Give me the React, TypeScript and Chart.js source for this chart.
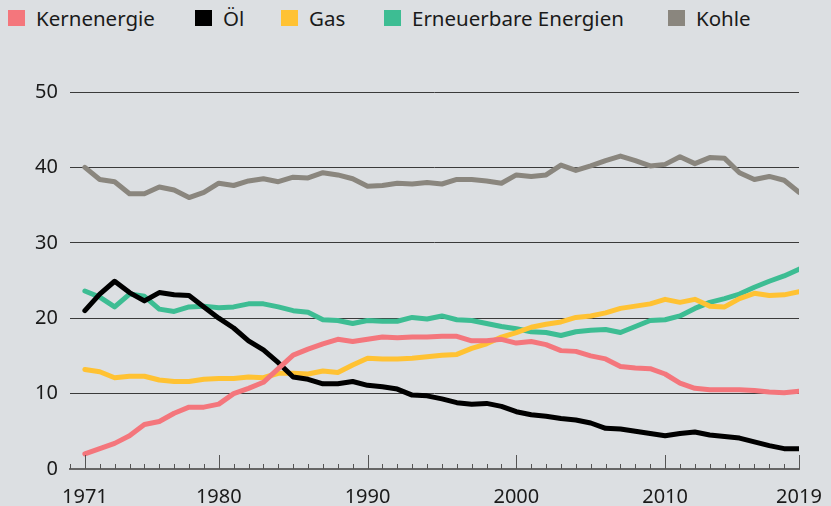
import React, { useEffect, useRef } from "react";
import { Chart, registerables } from "chart.js";

Chart.register(...registerables);

const years: number[] = [];
for (let y = 1971; y <= 2019; y++) years.push(y);

const kernenergie = [2.0, 2.7, 3.4, 4.4, 5.9, 6.3, 7.4, 8.2, 8.2, 8.6, 10.0, 10.7, 11.5, 13.3, 15.1, 15.9, 16.6, 17.2, 16.9, 17.2, 17.5, 17.4, 17.5, 17.5, 17.6, 17.6, 17.0, 17.0, 17.2, 16.7, 16.9, 16.5, 15.7, 15.6, 15.0, 14.6, 13.6, 13.4, 13.3, 12.6, 11.4, 10.7, 10.5, 10.5, 10.5, 10.4, 10.2, 10.1, 10.3];
const oel = [21.0, 23.2, 24.9, 23.4, 22.3, 23.4, 23.1, 23.0, 21.5, 20.0, 18.7, 17.0, 15.8, 14.1, 12.2, 11.9, 11.3, 11.3, 11.6, 11.1, 10.9, 10.6, 9.8, 9.7, 9.3, 8.8, 8.6, 8.7, 8.3, 7.6, 7.2, 7.0, 6.7, 6.5, 6.1, 5.4, 5.3, 5.0, 4.7, 4.4, 4.7, 4.9, 4.5, 4.3, 4.1, 3.6, 3.1, 2.7, 2.7];
const gas = [13.2, 12.9, 12.1, 12.3, 12.3, 11.8, 11.6, 11.6, 11.9, 12.0, 12.0, 12.2, 12.1, 12.7, 12.7, 12.6, 13.0, 12.8, 13.8, 14.7, 14.6, 14.6, 14.7, 14.9, 15.1, 15.2, 16.0, 16.6, 17.5, 18.1, 18.8, 19.2, 19.5, 20.1, 20.3, 20.7, 21.3, 21.6, 21.9, 22.5, 22.1, 22.5, 21.6, 21.5, 22.6, 23.3, 23.0, 23.1, 23.5];
const erneuerbare = [23.6, 22.8, 21.5, 23.2, 22.9, 21.2, 20.9, 21.5, 21.6, 21.4, 21.5, 21.9, 21.9, 21.5, 21.0, 20.8, 19.8, 19.7, 19.3, 19.7, 19.6, 19.6, 20.1, 19.9, 20.3, 19.8, 19.7, 19.3, 18.9, 18.6, 18.2, 18.1, 17.7, 18.2, 18.4, 18.5, 18.1, 18.9, 19.7, 19.8, 20.3, 21.3, 22.1, 22.6, 23.2, 24.1, 24.9, 25.6, 26.5];
const kohle = [40.0, 38.4, 38.1, 36.5, 36.5, 37.4, 37.0, 36.0, 36.7, 37.9, 37.6, 38.2, 38.5, 38.1, 38.7, 38.6, 39.3, 39.0, 38.5, 37.5, 37.6, 37.9, 37.8, 38.0, 37.8, 38.4, 38.4, 38.2, 37.9, 39.0, 38.8, 39.0, 40.3, 39.6, 40.2, 40.9, 41.5, 40.9, 40.2, 40.4, 41.4, 40.5, 41.3, 41.2, 39.3, 38.4, 38.8, 38.3, 36.7];

const xTickLabels = [1971, 1980, 1990, 2000, 2010, 2019];
const yTicks = [0, 10, 20, 30, 40, 50];

const seriesNames = ["Kernenergie", "Öl", "Gas", "Erneuerbare Energien", "Kohle"];
const seriesColors = ["#f4767c", "#000000", "#ffc233", "#3dbd93", "#8a867e"];
const seriesData = [kernenergie, oel, gas, erneuerbare, kohle];

// legend layout (pixel offsets of each legend item)
const legendLeft = [8, 195, 281, 384, 668];

const FONT = "'Noto Sans', sans-serif";

const tickPlugin = {
  id: "upTicks",
  afterDatasetsDraw(chart: any) {
    const x = chart.scales.x;
    const ctx = chart.ctx;
    const bottom = chart.chartArea.bottom;
    ctx.save();
    ctx.strokeStyle = "#555";
    ctx.lineWidth = 1;
    for (let yr = 1970; yr <= 2019; yr++) {
      const px = Math.round(x.getPixelForValue(yr)) + 0.5;
      const major = xTickLabels.includes(yr);
      const len = major ? 14 : 5;
      ctx.beginPath();
      ctx.moveTo(px, bottom);
      ctx.lineTo(px, bottom - len);
      ctx.stroke();
    }
    ctx.restore();
  },
};

export default function App() {
  const ref = useRef<HTMLCanvasElement | null>(null);

  useEffect(() => {
    if (!ref.current) return;
    const chart = new Chart(ref.current, {
      type: "line",
      data: {
        datasets: seriesNames.map((name, i) => ({
          label: name,
          data: years.map((yr, j) => ({ x: yr, y: seriesData[i][j] })),
          borderColor: seriesColors[i],
          backgroundColor: seriesColors[i],
          borderWidth: 5,
          pointRadius: 0,
          tension: 0,
          borderCapStyle: "round" as const,
          borderJoinStyle: "round" as const,
        })),
      },
      options: {
        animation: false,
        responsive: false,
        maintainAspectRatio: false,
        layout: { padding: { top: 92, right: 32, left: 0, bottom: 0 } },
        plugins: { legend: { display: false }, tooltip: { enabled: false } },
        scales: {
          x: {
            type: "linear",
            min: 1970,
            max: 2019,
            afterBuildTicks: (scale: any) => {
              scale.ticks = xTickLabels.map((v) => ({ value: v }));
            },
            afterFit: (scale: any) => {
              scale.height = 37;
              scale.paddingLeft = 0;
              scale.paddingRight = 0;
            },
            grid: { display: false, drawTicks: false },
            border: { display: true, color: "#666", width: 2 },
            ticks: {
              autoSkip: false,
              maxRotation: 0,
              padding: 16,
              color: "#1a1a1a",
              font: { family: FONT, size: 20 },
              callback: (v: any) => String(v),
            },
          },
          y: {
            min: 0,
            max: 50,
            afterBuildTicks: (scale: any) => {
              scale.ticks = yTicks.map((v) => ({ value: v }));
            },
            afterFit: (scale: any) => {
              scale.width = 70;
              scale.paddingTop = 0;
              scale.paddingBottom = 0;
            },
            border: { display: false },
            grid: {
              drawTicks: false,
              color: (c: any) => (c.tick && c.tick.value === 0 ? "rgba(0,0,0,0)" : "#3a3a3a"),
              lineWidth: 1,
            },
            ticks: {
              padding: 12,
              color: "#1a1a1a",
              font: { family: FONT, size: 20 },
            },
          },
        },
      },
      plugins: [tickPlugin],
    });
    return () => chart.destroy();
  }, []);

  return (
    <div
      style={{
        position: "fixed",
        left: 0,
        top: 0,
        width: 831,
        height: 506,
        background: "#dcdfe2",
        fontFamily: FONT,
      }}
    >
      {seriesNames.map((n, i) => (
        <div
          key={n}
          style={{
            position: "absolute",
            left: legendLeft[i],
            top: 4,
            display: "flex",
            alignItems: "center",
            fontSize: 20.5,
            color: "#1a1a1a",
            whiteSpace: "nowrap",
          }}
        >
          <span
            style={{
              display: "inline-block",
              width: 17,
              height: 16,
              background: seriesColors[i],
              marginRight: 11,
            }}
          />
          <span>{n}</span>
        </div>
      ))}
      <canvas ref={ref} width={831} height={506} style={{ position: "absolute", left: 0, top: 0 }} />
    </div>
  );
}
